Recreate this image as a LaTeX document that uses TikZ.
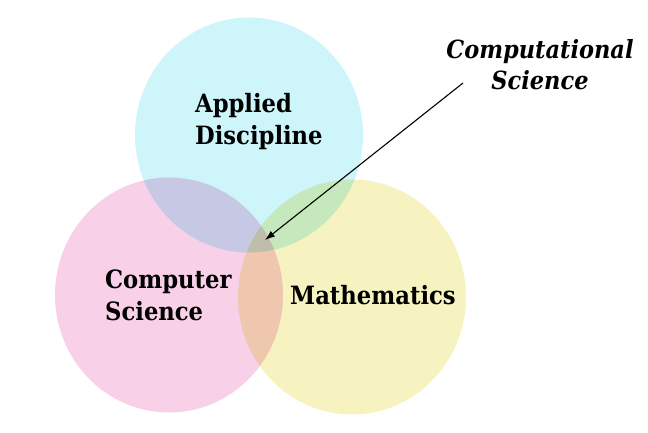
\documentclass[tikz,border=0pt]{standalone}
\usepackage{fontspec}
\usepackage{tikz}
\usetikzlibrary{shapes.geometric,arrows.meta}
\newfontfamily\labelfont{DejaVu Serif Condensed}
\definecolor{appliedcol}{RGB}{205,245,250}
\definecolor{compcol}{RGB}{248,209,233}
\definecolor{mathcol}{RGB}{246,243,192}
\tikzstyle{field} = [ellipse, inner sep=0pt, minimum width=228pt, minimum height=235pt]
\tikzstyle{fieldname} = [inner sep=0pt, align=left,
    font=\labelfont\bfseries\fontsize{25.2}{32}\selectfont]
\tikzstyle{calloutname} = [inner sep=0pt, align=center,
    font=\labelfont\bfseries\itshape\fontsize{25}{31}\selectfont]

\begin{document}
\begin{tikzpicture}[x=1pt, y=-1pt]
\useasboundingbox (0,0) rectangle (648,432);
\begin{scope}[blend group=multiply]
    \node [field, fill=appliedcol] (applied) at (249,135) {};
    \node [field, fill=compcol] (computer) at (169,295) {};
    \node [field, fill=mathcol] (maths) at (352,297) {};
\end{scope}
\node [fieldname, anchor=west] (appliedname) at (195,122) {Applied\\Discipline};
\node [fieldname, anchor=west] (computername) at (105,295) {Computer\\Science};
\node [fieldname, anchor=west] (mathsname) at (290,295) {Mathematics};
\node [calloutname] (compsci) at (540,65) {Computational\\Science};
\coordinate (tail) at (463,83);
\coordinate (core) at (265,240);
\draw [-{Latex[length=10pt,width=7pt]}, line width=1.1pt] (tail) -- (core);
\end{tikzpicture}
\end{document}
